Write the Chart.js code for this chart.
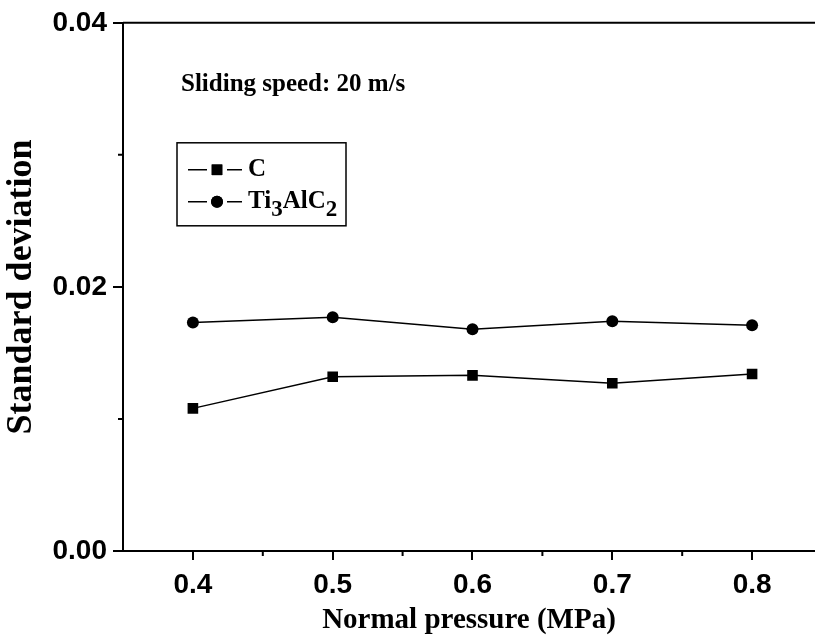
<!DOCTYPE html>
<html lang="en">
<head>
<meta charset="UTF-8">
<title>Standard deviation vs normal pressure</title>
<script src="https://cdn.jsdelivr.net/npm/chart.js@4.4.1/dist/chart.umd.min.js"></script>
<style>
  body { margin: 0; background: #fff; }
  canvas { display: block; }
</style>
</head>
<body>
<canvas id="sdChart" width="815" height="640"></canvas>
<script>
// values
const pressure = [0.4, 0.5, 0.6, 0.7, 0.8];
const carbonSd = [0.0108, 0.0132, 0.0133, 0.0127, 0.0134];
const ti3alc2Sd = [0.0173, 0.0177, 0.0168, 0.0174, 0.0171];
const seriesLabels = ['C', 'Ti3AlC2'];
const xTicks = [0.4, 0.5, 0.6, 0.7, 0.8];
const xMinorTicks = [0.45, 0.55, 0.65, 0.75];
const yTicks = [0, 0.02, 0.04];
const yMinorTicks = [0.01, 0.03];
const noteText = 'Sliding speed: 20 m/s';

const SERIF = '"Liberation Serif", "Times New Roman", serif';
const SANS = '"Liberation Sans", Arial, sans-serif';

// draws "Ti3AlC2" style labels with digits as subscripts
function drawChemText(ctx, text, x, y, size) {
    const parts = text.match(/\d+|\D+/g) || [];
    let cx = x;
    parts.forEach(p => {
        const sub = /^\d+$/.test(p);
        ctx.font = 'bold ' + (sub ? Math.round(size * 0.9) : size) + 'px ' + SERIF;
        ctx.fillText(p, cx, sub ? y + size * 0.35 : y);
        cx += ctx.measureText(p).width;
    });
}

const framePlugin = {
    id: 'frame',
    afterDraw(chart) {
        const ctx = chart.ctx;
        const area = chart.chartArea;
        const xs = chart.scales.x, ys = chart.scales.y;
        ctx.save();
        ctx.strokeStyle = '#000';
        ctx.fillStyle = '#000';

        // top border line
        ctx.lineWidth = 2;
        ctx.beginPath();
        ctx.moveTo(area.left, area.top);
        ctx.lineTo(area.right, area.top);
        ctx.stroke();

        // minor ticks
        ctx.beginPath();
        xMinorTicks.forEach(v => {
            const px = xs.getPixelForValue(v);
            ctx.moveTo(px, area.bottom);
            ctx.lineTo(px, area.bottom + 5);
        });
        yMinorTicks.forEach(v => {
            const py = ys.getPixelForValue(v);
            ctx.moveTo(area.left, py);
            ctx.lineTo(area.left - 5, py);
        });
        ctx.stroke();

        // note
        ctx.font = 'bold 25px ' + SERIF;
        ctx.textBaseline = 'middle';
        ctx.textAlign = 'left';
        ctx.fillText(noteText, area.left + 58, area.top + 62);

        // legend box
        const bx = area.left + 54, by = area.top + 120, bw = 169, bh = 83;
        ctx.lineWidth = 1.5;
        ctx.strokeRect(bx, by, bw, bh);
        chart.data.datasets.forEach((ds, i) => {
            const ry = by + 27 + i * 32;
            ctx.lineWidth = 1.5;
            ctx.beginPath();
            ctx.moveTo(bx + 11, ry);
            ctx.lineTo(bx + 30, ry);
            ctx.moveTo(bx + 50, ry);
            ctx.lineTo(bx + 65, ry);
            ctx.stroke();
            Chart.helpers.drawPoint(ctx, {
                pointStyle: ds.pointStyle,
                radius: ds.pointStyle === 'rect' ? 7.5 : 6,
                rotation: 0,
                borderWidth: 0
            }, bx + 40, ry);
            ctx.fill();
            drawChemText(ctx, ds.label, bx + 71, ry, 25);
        });
        ctx.restore();
    }
};

new Chart(document.getElementById('sdChart'), {
    type: 'line',
    data: {
        datasets: [
            {
                label: seriesLabels[0],
                data: pressure.map((p, i) => ({x: p, y: carbonSd[i]})),
                borderColor: '#000',
                backgroundColor: '#000',
                borderWidth: 1.5,
                pointStyle: 'rect',
                pointRadius: 7.5,
                pointBorderWidth: 0
            },
            {
                label: seriesLabels[1],
                data: pressure.map((p, i) => ({x: p, y: ti3alc2Sd[i]})),
                borderColor: '#000',
                backgroundColor: '#000',
                borderWidth: 1.5,
                pointStyle: 'circle',
                pointRadius: 6,
                pointBorderWidth: 0
            }
        ]
    },
    options: {
        responsive: false,
        animation: false,
        layout: { autoPadding: false, padding: { top: 22, right: 0, left: 0, bottom: 0 } },
        plugins: { legend: { display: false }, tooltip: { enabled: false } },
        scales: {
            x: {
                type: 'linear',
                min: 0.35,
                max: 0.845,
                afterBuildTicks: s => { s.ticks = xTicks.map(v => ({value: v})); },
                afterFit: s => { s.height = 89; s.paddingLeft = 0; s.paddingRight = 0; },
                grid: { drawOnChartArea: false, drawTicks: true, tickLength: 9, color: '#000', lineWidth: 2 },
                border: { display: true, color: '#000', width: 2 },
                ticks: {
                    color: '#000',
                    padding: 8,
                    font: { family: SANS, size: 28, weight: 'bold' },
                    callback: v => v.toFixed(1)
                },
                title: {
                    display: true,
                    text: 'Normal pressure (MPa)',
                    color: '#000',
                    font: { family: SERIF, size: 29, weight: 'bold' },
                    padding: { top: 0, bottom: 2 }
                }
            },
            y: {
                min: 0,
                max: 0.04,
                afterBuildTicks: s => { s.ticks = yTicks.map(v => ({value: v})); },
                afterFit: s => { s.width = 123; },
                grid: { drawOnChartArea: false, drawTicks: true, tickLength: 10, color: '#000', lineWidth: 2 },
                border: { display: true, color: '#000', width: 2 },
                ticks: {
                    color: '#000',
                    padding: 6,
                    font: { family: SANS, size: 28, weight: 'bold' },
                    callback: v => v.toFixed(2)
                },
                title: {
                    display: true,
                    text: 'Standard deviation',
                    color: '#000',
                    font: { family: SERIF, size: 36, weight: 'bold' },
                    padding: { top: 0, bottom: 0 }
                }
            }
        }
    },
    plugins: [framePlugin]
});
</script>
</body>
</html>
